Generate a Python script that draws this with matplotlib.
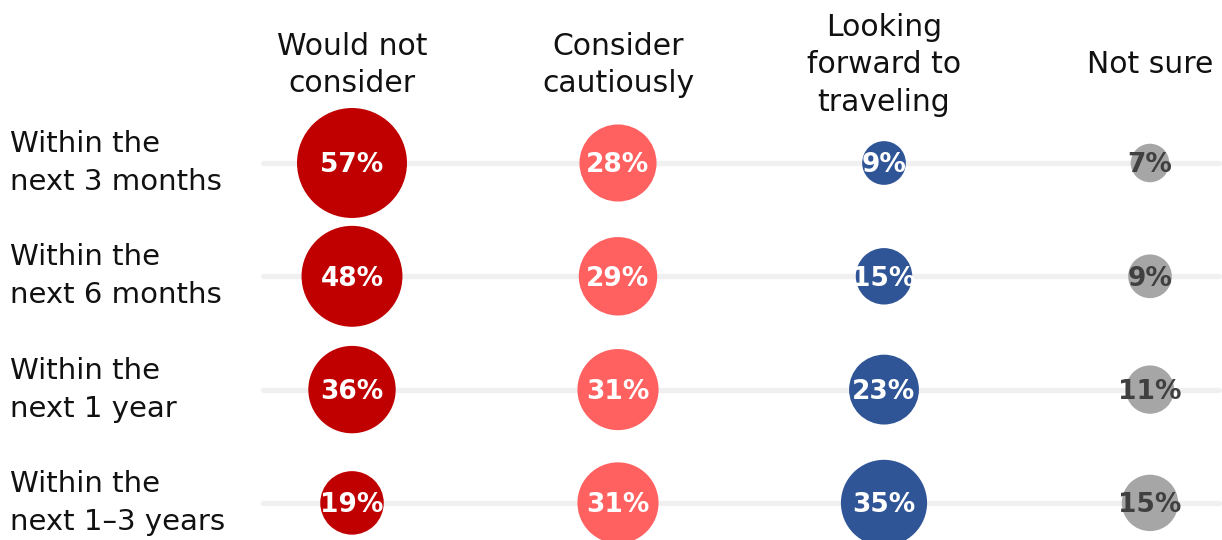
import matplotlib
matplotlib.use("Agg")
import matplotlib.pyplot as plt
import numpy as np

# data
columns = ["Would not\nconsider", "Consider\ncautiously", "Looking\nforward to\ntraveling", "Not sure"]
rows = ["Within the\nnext 3 months", "Within the\nnext 6 months", "Within the\nnext 1 year", "Within the\nnext 1\u20133 years"]
would_not = [57, 48, 36, 19]
cautiously = [28, 29, 31, 31]
looking_fwd = [9, 15, 23, 35]
not_sure = [7, 9, 11, 15]

series = [would_not, cautiously, looking_fwd, not_sure]
colors = ["#C00000", "#FF6161", "#2F5597", "#A6A6A6"]
text_colors = ["white", "white", "white", "#404040"]

plt.rcParams["font.family"] = ["DejaVu Sans"]

fig = plt.figure(figsize=(12.22, 5.4), dpi=100)
ax = fig.add_axes([0, 0, 1, 1])
ax.set_xlim(-352 / 266, (1222 - 352) / 266)
ax.set_ylim((540 - 163) / 113.3, -163 / 113.3)
ax.axis("off")

# grey guide lines behind the bubbles
for r in range(len(rows)):
    ax.plot([-0.335, 3.26], [r, r], color="#F0F0F0", lw=3.8,
            solid_capstyle="round", zorder=1)

for c, vals in enumerate(series):
    ys = np.arange(len(vals))
    xs = np.full(len(vals), c)
    ax.scatter(xs, ys, s=[110 * v for v in vals], color=colors[c],
               edgecolors="none", zorder=2, clip_on=False)
    for y, v in zip(ys, vals):
        ax.text(c, y + 0.02, "%d%%" % v, ha="center", va="center",
                fontsize=19, fontweight="bold", color=text_colors[c], zorder=3)
    ax.text(c, -0.865, columns[c], ha="center", va="center", fontsize=21.5,
            color="#111111", linespacing=1.36)

for r, lab in enumerate(rows):
    ax.text(-1.285, r, lab, ha="left", va="center", fontsize=21,
            color="#111111", linespacing=1.45)

fig.savefig("out.png", dpi=100)
